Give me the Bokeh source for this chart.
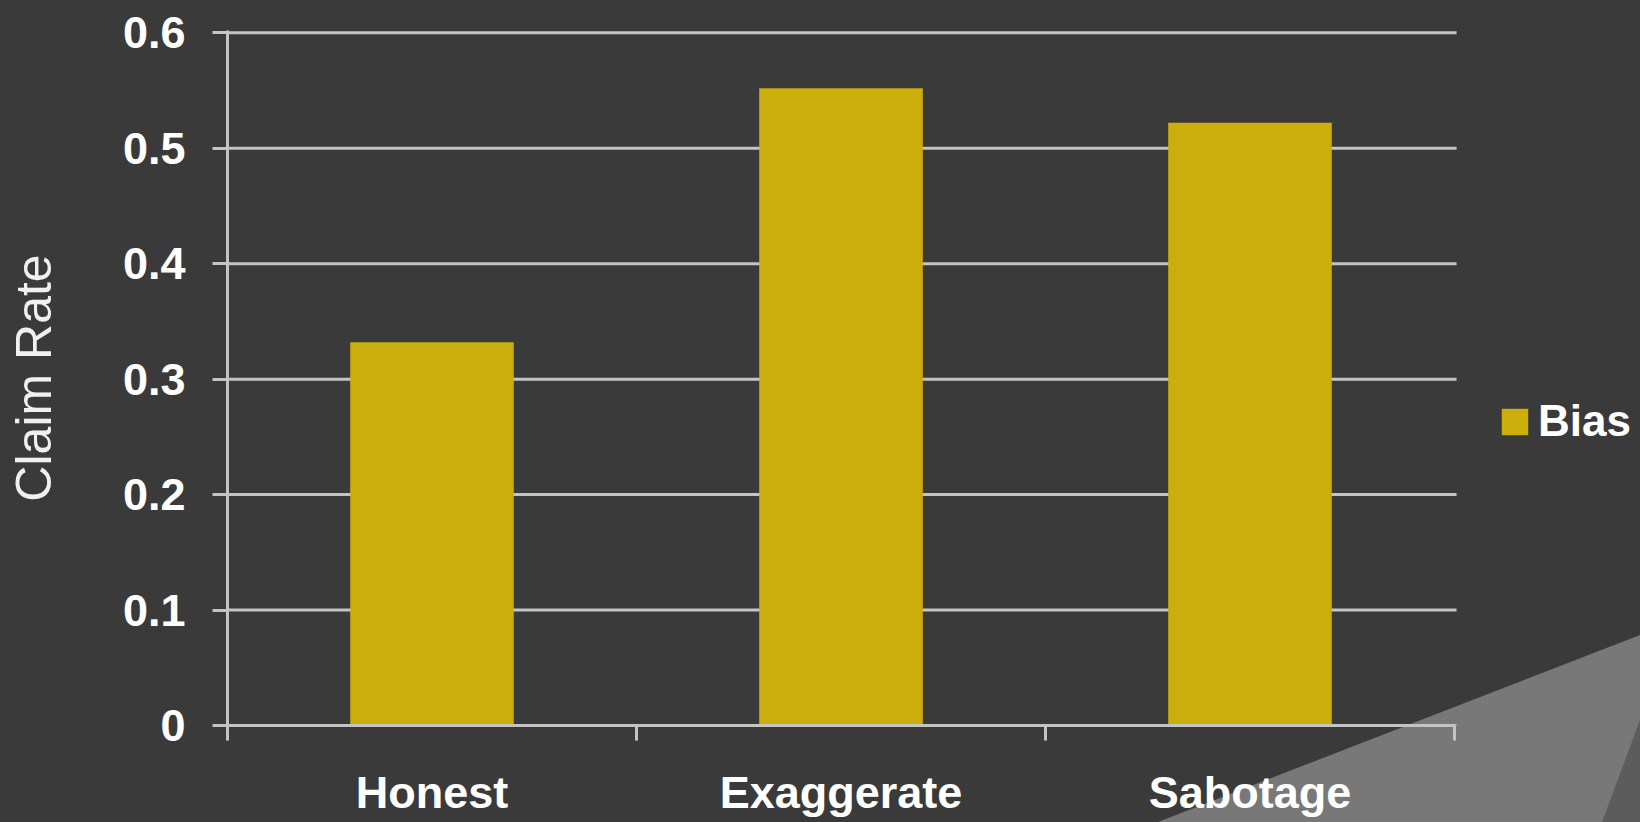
from bokeh.plotting import figure
from bokeh.models import Range1d, FixedTicker, Legend, LegendItem
from bokeh.embed import file_html
from bokeh.resources import INLINE

# ---- data ----
categories = ["Honest", "Exaggerate", "Sabotage"]
bias_values = [0.332, 0.552, 0.522]
y_ticks = [0, 0.1, 0.2, 0.3, 0.4, 0.5, 0.6]
y_tick_labels = ["0", "0.1", "0.2", "0.3", "0.4", "0.5", "0.6"]
series_name = "Bias"
y_label = "Claim Rate"

# ---- style ----
BG = "#3a3a3a"
BAR = "#cbae0c"
GRID = "#c4c4c4"
FONT = "Liberation Sans"

n = len(categories)
x_pos = [i + 0.5 for i in range(n)]
x_bounds = list(range(n + 1))

# frame spans to the right page edge so the legend can live inside it;
# axis line and grid lines are limited to the category span [0, n]
W, H = 1640, 822
LEFT, RIGHT_AXIS_END = 227, 1454
x_end = n * (W - LEFT) / (RIGHT_AXIS_END - LEFT)

p = figure(width=W, height=H,
           x_range=Range1d(0, x_end), y_range=Range1d(0, 0.602),
           output_backend="svg", toolbar_location=None,
           min_border_left=LEFT, min_border_right=0,
           min_border_top=30, min_border_bottom=97,
           background_fill_color=BG, background_fill_alpha=0,
           border_fill_color=BG, border_fill_alpha=0,
           outline_line_color=None)

# horizontal grid lines, only across the category span
p.xgrid.grid_line_color = None
p.ygrid.grid_line_color = None
p.segment(x0=[0] * len(y_ticks), x1=[n + 0.005] * len(y_ticks),
          y0=y_ticks, y1=y_ticks, line_color=GRID, line_width=3,
          level="underlay")

r = p.vbar(x=x_pos, top=bias_values, bottom=0, width=0.40,
           fill_color=BAR, line_color=None)

# x axis
xa = p.xaxis[0]
xa.bounds = (0, n)
xa.ticker = FixedTicker(ticks=x_pos, minor_ticks=x_bounds)
xa.major_label_overrides = {x: c for x, c in zip(x_pos, categories)}
xa.major_tick_line_color = None
xa.major_tick_out = 0
xa.major_tick_in = 0
xa.minor_tick_line_color = GRID
xa.minor_tick_line_width = 3
xa.minor_tick_out = 15
xa.minor_tick_in = 0
xa.axis_line_color = GRID
xa.axis_line_width = 3
xa.major_label_text_font = FONT
xa.major_label_text_font_size = "45px"
xa.major_label_text_font_style = "bold"
xa.major_label_text_color = "#ffffff"
xa.major_label_standoff = 26

# y axis
ya = p.yaxis[0]
ya.ticker = FixedTicker(ticks=y_ticks, minor_ticks=[])
ya.major_label_overrides = {t: s for t, s in zip(y_ticks, y_tick_labels)}
ya.major_tick_line_color = GRID
ya.major_tick_line_width = 3
ya.major_tick_out = 15
ya.major_tick_in = 0
ya.minor_tick_line_color = None
ya.axis_line_color = GRID
ya.axis_line_width = 3
ya.major_label_text_font = FONT
ya.major_label_text_font_size = "45px"
ya.major_label_text_font_style = "bold"
ya.major_label_text_color = "#ffffff"
ya.major_label_standoff = 27
ya.axis_label = y_label
ya.axis_label_text_font = FONT
ya.axis_label_text_font_size = "50px"
ya.axis_label_text_font_style = "normal"
ya.axis_label_text_color = "#f0f0f0"
ya.axis_label_standoff = 58

legend = Legend(items=[LegendItem(label=series_name, renderers=[r])],
                location=(1271, 279), orientation="vertical",
                glyph_width=33, glyph_height=33, label_standoff=7,
                label_text_font=FONT, label_text_font_size="44px",
                label_text_font_style="bold", label_text_color="#ffffff",
                background_fill_alpha=0, border_line_color=None,
                padding=0, margin=0, spacing=0)
p.add_layout(legend)

# decorative page background (corner shapes of the slide)
deco = ("url(\"data:image/svg+xml;utf8,<svg xmlns='http://www.w3.org/2000/svg' "
        "width='1640' height='822'>"
        "<polygon points='1158,822 1640,635 1640,822' fill='%23787878'/>"
        "<polygon points='1602,822 1640,720 1640,822' fill='%235c5c5c'/>"
        "</svg>\") no-repeat 0 0")

html = file_html(p, INLINE)
html = html.replace(
    "</head>",
    "<style>html,body{margin:0;padding:0;overflow:hidden;}"
    "body{background:%s %s;}</style></head>" % (BG, deco), 1)
open("out.html", "w").write(html)
